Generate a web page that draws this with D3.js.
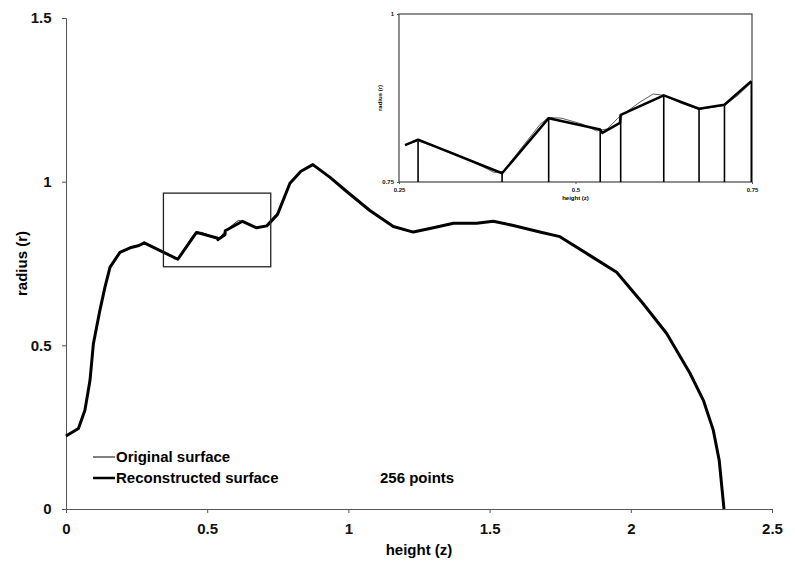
<!DOCTYPE html>
<html>
<head>
<meta charset="utf-8">
<script src="https://cdn.jsdelivr.net/npm/d3@7"></script>
<style>
  body { margin: 0; background: #fff; }
  svg { font-family: "Liberation Sans", Arial, sans-serif; font-weight: bold; }
  .axis path, .axis line { stroke: #555; }
  .axis text { fill: #111; font-weight: bold; }
</style>
</head>
<body>
<div id="chart"></div>
<script>
// reconstructed surface
const reconZ = [0, 0.044, 0.067, 0.085, 0.097, 0.120, 0.138, 0.156, 0.191, 0.227, 0.2585, 0.277,
  0.396, 0.462, 0.535, 0.538, 0.563, 0.564, 0.625, 0.675, 0.711, 0.749, 0.793, 0.832, 0.874,
  0.935, 0.994, 1.076, 1.159, 1.230, 1.301, 1.372, 1.454, 1.513, 1.584, 1.678, 1.749, 1.856,
  1.950, 2.044, 2.127, 2.210, 2.257, 2.292, 2.313, 2.33];
const reconR = [0.223, 0.246, 0.302, 0.393, 0.505, 0.607, 0.678, 0.739, 0.784, 0.798, 0.805, 0.813,
  0.763, 0.845, 0.828, 0.823, 0.838, 0.850, 0.879, 0.859, 0.865, 0.900, 0.995, 1.032, 1.052,
  1.013, 0.970, 0.912, 0.863, 0.846, 0.859, 0.873, 0.873, 0.879, 0.866, 0.846, 0.832, 0.774,
  0.723, 0.627, 0.536, 0.414, 0.332, 0.241, 0.149, 0.0];

// original surface (smoother, differs only slightly)
const origZ = [0, 0.044, 0.067, 0.085, 0.097, 0.120, 0.138, 0.156, 0.191, 0.227, 0.2585, 0.277,
  0.33, 0.37, 0.385, 0.398, 0.42, 0.45, 0.462, 0.48, 0.51, 0.53, 0.545, 0.56, 0.59, 0.61, 0.625,
  0.65, 0.675, 0.711, 0.73, 0.749, 0.793, 0.832, 0.874, 0.935, 0.994, 1.076, 1.159, 1.230,
  1.301, 1.372, 1.454, 1.513, 1.584, 1.678, 1.749, 1.856, 1.950, 2.044, 2.127, 2.210, 2.257,
  2.292, 2.313, 2.33];
const origR = [0.223, 0.246, 0.302, 0.393, 0.505, 0.607, 0.678, 0.739, 0.784, 0.798, 0.805, 0.811,
  0.792, 0.772, 0.764, 0.766, 0.796, 0.836, 0.846, 0.845, 0.836, 0.826, 0.829, 0.845, 0.868,
  0.881, 0.879, 0.867, 0.858, 0.864, 0.879, 0.898, 0.995, 1.032, 1.052, 1.013, 0.970, 0.912,
  0.863, 0.846, 0.859, 0.873, 0.873, 0.879, 0.866, 0.846, 0.832, 0.774, 0.723, 0.627, 0.536,
  0.414, 0.332, 0.241, 0.149, 0.0];

// sample positions with drop lines in the inset
const knotZ = [0.277, 0.396, 0.462, 0.535, 0.564, 0.625, 0.675, 0.711, 0.749];

const xTicks = [0, 0.5, 1, 1.5, 2, 2.5];
const yTicks = [0, 0.5, 1, 1.5];
const insetXTicks = [0.25, 0.5, 0.75];
const insetYTicks = [0.75, 1];
const boxZ = [0.345, 0.725];
const boxR = [0.74, 0.965];
const legendLabels = ["Original surface", "Reconstructed surface"];
const noteText = "256 points";

const W = 795, H = 561;
const recon = reconZ.map((z, i) => ({ z, r: reconR[i] }));
const orig = origZ.map((z, i) => ({ z, r: origR[i] }));

const svg = d3.select("#chart").append("svg").attr("width", W).attr("height", H);

// main chart
const x = d3.scaleLinear().domain([0, 2.5]).range([66, 772]);
const y = d3.scaleLinear().domain([0, 1.5]).range([509, 18]);

svg.append("g").attr("class", "axis")
    .attr("transform", `translate(0,${y(0)})`)
    .call(d3.axisBottom(x).tickValues(xTicks).tickSize(4).tickFormat(d3.format("")))
    .call(g => g.selectAll("text").attr("dy", "1.2em").style("font-size", "15px"));

svg.append("g").attr("class", "axis")
    .attr("transform", `translate(${x(0)},0)`)
    .call(d3.axisLeft(y).tickValues(yTicks).tickSize(4).tickFormat(d3.format("")))
    .call(g => g.selectAll("text").attr("dx", "-0.5em").style("font-size", "15px"));

svg.append("text")
    .attr("x", (x(0) + x(2.5)) / 2).attr("y", 555)
    .attr("text-anchor", "middle").style("font-size", "15px")
    .text("height (z)");

svg.append("text")
    .attr("transform", `translate(27,${(y(0) + y(1.5)) / 2}) rotate(-90)`)
    .attr("text-anchor", "middle").style("font-size", "15px")
    .text("radius (r)");

const line = d3.line().x(d => x(d.z)).y(d => y(d.r));

svg.append("path").datum(orig).attr("d", line)
    .attr("fill", "none").attr("stroke", "#222").attr("stroke-width", 1);
svg.append("path").datum(recon).attr("d", line)
    .attr("fill", "none").attr("stroke", "#000").attr("stroke-width", 3)
    .attr("stroke-linejoin", "round");

// zoom box
svg.append("rect")
    .attr("x", x(boxZ[0])).attr("y", y(boxR[1]))
    .attr("width", x(boxZ[1]) - x(boxZ[0])).attr("height", y(boxR[0]) - y(boxR[1]))
    .attr("fill", "none").attr("stroke", "#222").attr("stroke-width", 1.3);

// legend
const legend = svg.append("g").attr("transform", "translate(93,457)");
legendLabels.forEach((label, i) => {
    const row = legend.append("g").attr("transform", `translate(0,${i * 21})`);
    row.append("line").attr("x1", 0).attr("x2", 22).attr("y1", 0).attr("y2", 0)
        .attr("stroke", "#000").attr("stroke-width", i === 0 ? 1 : 2.5);
    row.append("text").attr("x", 23).attr("y", 5).style("font-size", "15px").text(label);
});

svg.append("text").attr("x", 380).attr("y", 483).style("font-size", "15px").text(noteText);

// inset
const ix = d3.scaleLinear().domain([0.25, 0.75]).range([399, 752]);
const iy = d3.scaleLinear().domain([0.75, 1]).range([182, 14]);
const inset = svg.append("g");

inset.append("rect")
    .attr("x", ix(0.25)).attr("y", iy(1))
    .attr("width", ix(0.75) - ix(0.25)).attr("height", iy(0.75) - iy(1))
    .attr("fill", "none").attr("stroke", "#444").attr("stroke-width", 1.2);

inset.append("g").attr("class", "axis")
    .attr("transform", `translate(0,${iy(0.75)})`)
    .call(d3.axisBottom(ix).tickValues(insetXTicks).tickSize(2).tickFormat(d3.format("")))
    .call(g => g.select(".domain").remove())
    .call(g => g.selectAll("text").attr("dy", "0.9em").style("font-size", "6px"));

inset.append("g").attr("class", "axis")
    .attr("transform", `translate(${ix(0.25)},0)`)
    .call(d3.axisLeft(iy).tickValues(insetYTicks).tickSize(2).tickFormat(d3.format("")))
    .call(g => g.select(".domain").remove())
    .call(g => g.selectAll("text").style("font-size", "6px"));

inset.append("text").attr("x", ix(0.5)).attr("y", 200)
    .attr("text-anchor", "middle").style("font-size", "6px").text("height (z)");
inset.append("text")
    .attr("transform", `translate(382,${(iy(0.75) + iy(1)) / 2}) rotate(-90)`)
    .attr("text-anchor", "middle").style("font-size", "6px").text("radius (r)");

const inRange = d => d.z >= 0.255 && d.z <= 0.75;
const iline = d3.line().x(d => ix(d.z)).y(d => iy(d.r));

const bis = d3.bisector(d => d.z).left;
const reconAt = z => {
    const i = Math.max(1, Math.min(recon.length - 1, bis(recon, z)));
    const a = recon[i - 1], b = recon[i];
    return a.r + (b.r - a.r) * (z - a.z) / (b.z - a.z);
};

inset.selectAll(".drop").data(knotZ).join("line")
    .attr("class", "drop")
    .attr("x1", d => ix(d)).attr("x2", d => ix(d))
    .attr("y1", d => iy(reconAt(d))).attr("y2", iy(0.75))
    .attr("stroke", "#000").attr("stroke-width", 1.6);

inset.append("path").datum(orig.filter(inRange)).attr("d", iline)
    .attr("fill", "none").attr("stroke", "#333").attr("stroke-width", 0.8);
inset.append("path").datum(recon.filter(inRange)).attr("d", iline)
    .attr("fill", "none").attr("stroke", "#000").attr("stroke-width", 2.5)
    .attr("stroke-linejoin", "round");
</script>
</body>
</html>
